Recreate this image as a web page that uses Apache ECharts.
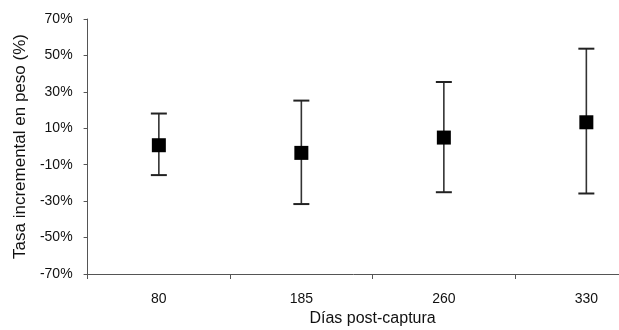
<!DOCTYPE html>
<html>
<head>
<meta charset="utf-8">
<script src="https://cdn.jsdelivr.net/npm/echarts@6/dist/echarts.min.js"></script>
<style>
html,body{margin:0;padding:0;background:#fff;}
#chart{width:619px;height:330px;}
</style>
</head>
<body>
<div id="chart"></div>
<script>
const categories = ['80', '185', '260', '330'];
const means = [0.7, -3.5, 4.9, 13.3];
const upper = [18.1, 25.2, 35.4, 53.7];
const lower = [-15.7, -31.6, -25.1, -25.8];
const yTicks = [-70, -50, -30, -10, 10, 30, 50, 70];

const chart = echarts.init(document.getElementById('chart'), null, {renderer: 'canvas'});
const errData = categories.map((c, i) => [i, lower[i], upper[i]]);

chart.setOption({
  animation: false,
  backgroundColor: '#fff',
  grid: {left: 87.6, top: 19, width: 570, height: 255, containLabel: false, outerBoundsMode: 'none'},
  xAxis: {
    type: 'category',
    data: categories,
    boundaryGap: true,
    name: 'Días post-captura',
    nameLocation: 'middle',
    nameGap: 37,
    nameTextStyle: {fontFamily: 'Liberation Sans', fontSize: 16, color: '#111'},
    axisLine: {onZero: false, lineStyle: {color: '#555', width: 1}},
    axisTick: {show: true, length: 5, lineStyle: {color: '#555'}},
    axisLabel: {fontFamily: 'Liberation Sans', fontSize: 14, color: '#111', margin: 18}
  },
  yAxis: {
    type: 'value',
    min: yTicks[0],
    max: yTicks[yTicks.length - 1],
    interval: 20,
    name: 'Tasa incremental en peso (%)',
    nameLocation: 'middle',
    nameGap: 52,
    nameTextStyle: {fontFamily: 'Liberation Sans', fontSize: 17, color: '#111'},
    axisLine: {show: true, lineStyle: {color: '#555', width: 1}},
    axisTick: {show: true, length: 4, lineStyle: {color: '#555'}},
    splitLine: {show: false},
    axisLabel: {fontFamily: 'Liberation Sans', fontSize: 14, color: '#111', margin: 15,
      formatter: v => v + '%'}
  },
  series: [
    {
      type: 'custom',
      data: errData,
      z: 2,
      renderItem: function (params, api) {
        const x = api.value(0);
        const lo = api.coord([x, api.value(1)]);
        const hi = api.coord([x, api.value(2)]);
        const hw = 8;
        const st = {stroke: '#333', lineWidth: 1.6};
        return {
          type: 'group',
          children: [
            {type: 'line', shape: {x1: hi[0], y1: hi[1], x2: lo[0], y2: lo[1]}, style: st},
            {type: 'line', shape: {x1: hi[0] - hw, y1: hi[1], x2: hi[0] + hw, y2: hi[1]}, style: {stroke: '#222', lineWidth: 2}},
            {type: 'line', shape: {x1: lo[0] - hw, y1: lo[1], x2: lo[0] + hw, y2: lo[1]}, style: {stroke: '#222', lineWidth: 2}}
          ]
        };
      }
    },
    {
      type: 'scatter',
      data: means,
      symbol: 'rect',
      symbolSize: 14,
      z: 3,
      itemStyle: {color: '#000', opacity: 1}
    }
  ]
});
</script>
</body>
</html>
